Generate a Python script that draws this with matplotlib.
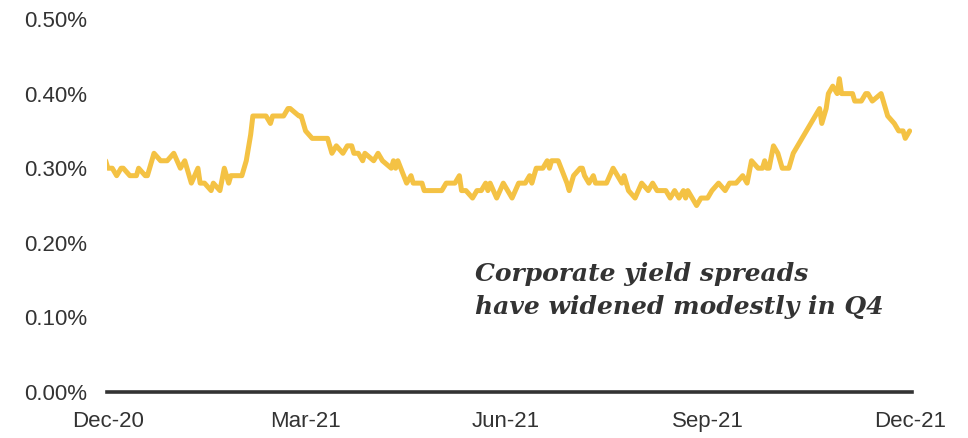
import matplotlib
matplotlib.use("Agg")
import matplotlib.pyplot as plt
import pandas as pd

dates = [
    "2020-12-30", "2020-12-31", "2021-01-02", "2021-01-04", "2021-01-06", "2021-01-07",
    "2021-01-10", "2021-01-13", "2021-01-14", "2021-01-17", "2021-01-18", "2021-01-21",
    "2021-01-24", "2021-01-27", "2021-01-30", "2021-02-02", "2021-02-04", "2021-02-07",
    "2021-02-10", "2021-02-11", "2021-02-13", "2021-02-16", "2021-02-17", "2021-02-20",
    "2021-02-22", "2021-02-24", "2021-02-25", "2021-03-02", "2021-03-04", "2021-03-06",
    "2021-03-07", "2021-03-13", "2021-03-15", "2021-03-16", "2021-03-21", "2021-03-23",
    "2021-03-24", "2021-03-28", "2021-03-29", "2021-03-31", "2021-04-03", "2021-04-10",
    "2021-04-12", "2021-04-14", "2021-04-17", "2021-04-19", "2021-04-21", "2021-04-22",
    "2021-04-24", "2021-04-26", "2021-04-27", "2021-05-01", "2021-05-03", "2021-05-05",
    "2021-05-09", "2021-05-10", "2021-05-11", "2021-05-12", "2021-05-14", "2021-05-16",
    "2021-05-18", "2021-05-19", "2021-05-23", "2021-05-24", "2021-06-01", "2021-06-03",
    "2021-06-07", "2021-06-09", "2021-06-10", "2021-06-12", "2021-06-15", "2021-06-17",
    "2021-06-19", "2021-06-21", "2021-06-22", "2021-06-23", "2021-06-26", "2021-06-29",
    "2021-07-03", "2021-07-06", "2021-07-09", "2021-07-11", "2021-07-12", "2021-07-14",
    "2021-07-17", "2021-07-19", "2021-07-20", "2021-07-21", "2021-07-24", "2021-07-28",
    "2021-07-29", "2021-07-31", "2021-08-03", "2021-08-04", "2021-08-05", "2021-08-07",
    "2021-08-09", "2021-08-10", "2021-08-15", "2021-08-18", "2021-08-20", "2021-08-22",
    "2021-08-23", "2021-08-25", "2021-08-28", "2021-08-31", "2021-09-03", "2021-09-05",
    "2021-09-07", "2021-09-11", "2021-09-13", "2021-09-15", "2021-09-17", "2021-09-19",
    "2021-09-20", "2021-09-21", "2021-09-25", "2021-09-27", "2021-09-30", "2021-10-02",
    "2021-10-05", "2021-10-08", "2021-10-10", "2021-10-13", "2021-10-16", "2021-10-18",
    "2021-10-20", "2021-10-23", "2021-10-25", "2021-10-26", "2021-10-27", "2021-10-28",
    "2021-10-30", "2021-11-01", "2021-11-03", "2021-11-06", "2021-11-08", "2021-11-10",
    "2021-11-12", "2021-11-14", "2021-11-16", "2021-11-18", "2021-11-20", "2021-11-21",
    "2021-11-23", "2021-11-24", "2021-11-26", "2021-11-28", "2021-11-29", "2021-11-30",
    "2021-12-05", "2021-12-06", "2021-12-09", "2021-12-11", "2021-12-12", "2021-12-14",
    "2021-12-18", "2021-12-21", "2021-12-24", "2021-12-26", "2021-12-28", "2021-12-29",
    "2021-12-31",
]

spread = [
    0.31, 0.30, 0.30, 0.29, 0.30, 0.30,
    0.29, 0.29, 0.30, 0.29, 0.29, 0.32,
    0.31, 0.31, 0.32, 0.30, 0.31, 0.28,
    0.30, 0.28, 0.28, 0.27, 0.28, 0.27,
    0.30, 0.28, 0.29, 0.29, 0.31, 0.345,
    0.37, 0.37, 0.36, 0.37, 0.37, 0.38,
    0.38, 0.37, 0.37, 0.35, 0.34, 0.34,
    0.32, 0.33, 0.32, 0.33, 0.33, 0.32,
    0.32, 0.31, 0.32, 0.31, 0.32, 0.31,
    0.30, 0.31, 0.30, 0.31, 0.295, 0.28,
    0.29, 0.28, 0.28, 0.27, 0.27, 0.28,
    0.28, 0.29, 0.27, 0.27, 0.26, 0.27,
    0.27, 0.28, 0.27, 0.28, 0.26, 0.28,
    0.26, 0.28, 0.28, 0.29, 0.28, 0.30,
    0.30, 0.31, 0.30, 0.31, 0.31, 0.28,
    0.27, 0.29, 0.30, 0.30, 0.29, 0.28,
    0.29, 0.28, 0.28, 0.30, 0.29, 0.28,
    0.29, 0.27, 0.26, 0.28, 0.27, 0.28,
    0.27, 0.27, 0.26, 0.27, 0.26, 0.27,
    0.26, 0.27, 0.25, 0.26, 0.26, 0.27,
    0.28, 0.27, 0.28, 0.28, 0.29, 0.28,
    0.31, 0.30, 0.30, 0.31, 0.30, 0.30,
    0.33, 0.32, 0.30, 0.30, 0.32, 0.33,
    0.34, 0.35, 0.36, 0.37, 0.38, 0.36,
    0.38, 0.40, 0.41, 0.40, 0.42, 0.40,
    0.40, 0.39, 0.39, 0.40, 0.40, 0.39,
    0.40, 0.37, 0.36, 0.35, 0.35, 0.34,
    0.35,
]

tick_dates = ["2020-12-31", "2021-03-31", "2021-06-30", "2021-09-30", "2021-12-31"]
tick_labels = ["Dec-20", "Mar-21", "Jun-21", "Sep-21", "Dec-21"]
y_ticks = [0.0, 0.1, 0.2, 0.3, 0.4, 0.5]
annotation = "Corporate yield spreads\nhave widened modestly in Q4"

plt.rcParams['font.family'] = ['Liberation Sans', 'DejaVu Sans']

fig = plt.figure(figsize=(9.68, 4.38), dpi=100)
ax = fig.add_axes([0.1105, 0.105, 0.8315, 0.8516])

x = pd.to_datetime(dates)
ax.plot(x, spread, color='#F4C244', lw=3.6, solid_joinstyle='round', solid_capstyle='round', zorder=3)

ax.set_ylim(0, 0.5)
ax.set_xlim(pd.Timestamp("2020-12-30 14:00"), pd.Timestamp("2022-01-01"))
ax.set_yticks(y_ticks)
ax.set_yticklabels([f"{v:.2f}%" for v in y_ticks])
ax.set_xticks(pd.to_datetime(tick_dates))
ax.set_xticklabels(tick_labels)

for s in ['top', 'right', 'left']:
    ax.spines[s].set_visible(False)
ax.spines['bottom'].set_color('#333333')
ax.spines['bottom'].set_linewidth(2.6)
ax.tick_params(axis='both', length=0, labelsize=16, colors='#333333')
ax.tick_params(axis='y', pad=14)
ax.tick_params(axis='x', pad=14)

fig.text(0.4907, 0.402, annotation, fontsize=18, fontweight='bold', fontstyle='italic',
         family=['DejaVu Serif'], color='#333333', va='top', ha='left', linespacing=1.5)

fig.savefig("out.png", dpi=100)
